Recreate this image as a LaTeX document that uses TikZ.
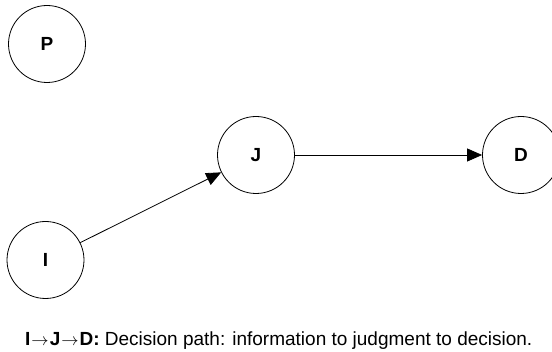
\documentclass[tikz,border=0pt]{standalone}
\usepackage{fontspec}
\setmainfont{Liberation Sans}
\usepackage{tikz}
\usetikzlibrary{positioning,arrows.meta}

\begin{document}
\begin{tikzpicture}[
  x=1pt, y=-1pt,
  var/.style={circle, draw, line width=0.8pt, minimum size=77pt, inner sep=0pt, font=\fontsize{19}{19}\selectfont\bfseries},
  lbl/.style={font=\fontsize{19}{20}\selectfont, inner sep=0pt},
  arr/.style={-{Triangle[length=15pt,width=13pt]}, line width=0.8pt}
]
\useasboundingbox (0,0) rectangle (552,352);
% variables
\node[var] (p) at (47,44) {P};
\node[var] (j) at (256,155) {J};
\node[var] (d) at (521,155) {D};
\node[var] (i) at (45.5,260) {I};

% decision path
\draw[arr] (i) -- (j);
\draw[arr] (j) -- (d);

% caption
\node[lbl, anchor=base west] (cap) at (25,346)
  {\textbf{I\kern1pt$\rightarrow$\kern1pt J\kern1pt$\rightarrow$\kern1pt D:} Decision path: information to judgment to decision.};
\end{tikzpicture}
\end{document}
